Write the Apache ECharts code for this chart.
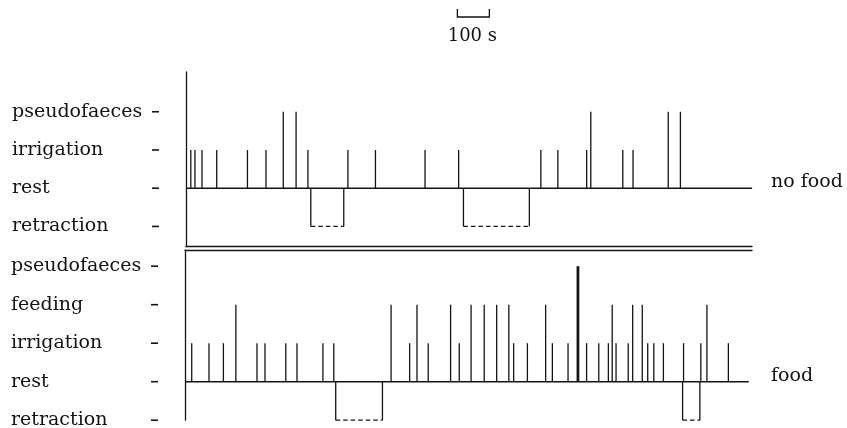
<!DOCTYPE html>
<html>
<head>
<meta charset="utf-8">
<style>
  html, body { margin: 0; padding: 0; background: #fff; }
  #chart { width: 847px; height: 428px; }
</style>
<script src="https://cdn.jsdelivr.net/npm/echarts@6/dist/echarts.min.js"></script>
</head>
<body>
<div id="chart"></div>
<script>
// Behaviour records, times in seconds from the start of each observation.
const noFoodLevels = ['retraction', 'rest', 'irrigation', 'pseudofaeces'];   // levels -1 .. 2
const foodLevels = ['retraction', 'rest', 'irrigation', 'feeding', 'pseudofaeces']; // levels -1 .. 3

const noFoodIrrigation = [15, 28, 50, 96, 192, 250, 381, 506, 592, 747, 852, 1109, 1162, 1252, 1365, 1397];
const noFoodPseudofaeces = [304, 344, 1265, 1507, 1545];
const noFoodRetraction = [[390, 493], [867, 1073]];
const noFoodEnd = 1769;

const foodIrrigation = [21, 75, 120, 225, 250, 315, 350, 431, 465, 702, 760, 857, 1027, 1070, 1148, 1197,
  1255, 1293, 1323, 1347, 1385, 1446, 1465, 1495, 1558, 1612, 1698];
const foodFeeding = [159, 644, 725, 830, 894, 935, 974, 1012, 1127, 1335, 1399, 1429, 1631];
const foodPseudofaeces = [1228];
const foodRetraction = [[471, 617], [1555, 1609]];
const foodEnd = 1762;

const scaleBar = [848, 948];   // 100 s
const scaleLabel = '100 s';

const INK = '#141414';
const SERIF = 'DejaVu Serif';
const S_PER_PX = 3.125;

function spikes(times, level, width) {
  return times.map(t => [t, level, width]);
}

function spikeItem(params, api) {
  const t = api.value(0), lv = api.value(1);
  const a = api.coord([t, 0]), b = api.coord([t, lv]);
  return {
    type: 'line',
    shape: { x1: a[0], y1: a[1], x2: b[0], y2: b[1] },
    style: { stroke: INK, lineWidth: api.value(2), lineCap: 'butt' }
  };
}

function retractionItem(params, api) {
  const s = api.value(0), e = api.value(1);
  const s0 = api.coord([s, 0]), s1 = api.coord([s, -1]);
  const e0 = api.coord([e, 0]), e1 = api.coord([e, -1]);
  return {
    type: 'group',
    children: [
      { type: 'polyline', shape: { points: [s0, s1] }, style: { stroke: INK, lineWidth: 1.3, fill: null } },
      { type: 'polyline', shape: { points: [e1, e0] }, style: { stroke: INK, lineWidth: 1.3, fill: null } },
      { type: 'line', shape: { x1: s1[0], y1: s1[1], x2: e1[0], y2: e1[1] },
        style: { stroke: INK, lineWidth: 1.2, lineDash: [4.5, 3] } }
    ]
  };
}

function levelAxis(gridIndex, names, min, max) {
  const values = names.map((_, i) => i - 1);
  return {
    type: 'value', gridIndex, min, max,
    splitLine: { show: false },
    axisTick: { show: false },
    axisLine: { show: true, onZero: false, lineStyle: { color: INK, width: 1.3 } },
    axisLabel: {
      customValues: values,
      margin: 27,
      align: 'right',
      verticalAlign: 'middle',
      formatter: v => `{n|${names[Math.round(v) + 1]}}{d| }`,
      rich: {
        n: { width: 140, align: 'left', fontFamily: SERIF, fontSize: 19, color: INK },
        d: { width: 7, height: 1.6, backgroundColor: INK, fontSize: 2 }
      }
    }
  };
}

function conditionAxis(gridIndex, text, min, max) {
  return {
    type: 'value', gridIndex, min, max, position: 'right',
    splitLine: { show: false },
    axisTick: { show: false },
    axisLine: { show: false },
    axisLabel: {
      customValues: [0],
      margin: 19,
      align: 'left',
      verticalAlign: 'bottom',
      lineHeight: 12,
      formatter: () => text,
      fontFamily: SERIF, fontSize: 19, color: INK
    }
  };
}

function timeAxis(gridIndex, width, position, showLine) {
  return {
    type: 'value', gridIndex, min: 0, max: width * S_PER_PX, position,
    splitLine: { show: false },
    axisTick: { show: false },
    axisLabel: { show: false },
    axisLine: { show: showLine, onZero: false, lineStyle: { color: INK, width: 1.3 } }
  };
}

const chart = echarts.init(document.getElementById('chart'), null, { renderer: 'canvas' });

chart.setOption({
  backgroundColor: '#fff',
  animation: false,
  grid: [
    { left: 186, width: 566, top: 72, height: 174.7, outerBoundsMode: 'none' },   // no food
    { left: 185, width: 567, top: 250, height: 170.2, outerBoundsMode: 'none' },  // food
    { left: 186, width: 566, top: 9, height: 8, outerBoundsMode: 'none' }         // time scale bar
  ],
  xAxis: [
    timeAxis(0, 566, 'bottom', true),
    timeAxis(1, 567, 'top', true),
    timeAxis(2, 566, 'bottom', false)
  ],
  yAxis: [
    levelAxis(0, noFoodLevels, -1.53, 3.04),
    levelAxis(1, foodLevels, -1.0, 3.42),
    { type: 'value', gridIndex: 2, min: 0, max: 1, show: false },
    conditionAxis(0, 'no food', -1.53, 3.04),
    conditionAxis(1, 'food', -1.0, 3.42)
  ],
  series: [
    // no food
    { type: 'line', xAxisIndex: 0, yAxisIndex: 0, data: [[0, 0], [noFoodEnd, 0]],
      symbol: 'none', lineStyle: { color: INK, width: 1.4 } },
    { type: 'custom', xAxisIndex: 0, yAxisIndex: 0, renderItem: spikeItem,
      data: spikes(noFoodIrrigation, 1, 1.3).concat(spikes(noFoodPseudofaeces, 2, 1.3)) },
    { type: 'custom', xAxisIndex: 0, yAxisIndex: 0, renderItem: retractionItem, data: noFoodRetraction },
    // food
    { type: 'line', xAxisIndex: 1, yAxisIndex: 1, data: [[0, 0], [foodEnd, 0]],
      symbol: 'none', lineStyle: { color: INK, width: 1.4 } },
    { type: 'custom', xAxisIndex: 1, yAxisIndex: 1, renderItem: spikeItem,
      data: spikes(foodIrrigation, 1, 1.3).concat(spikes(foodFeeding, 2, 1.3), spikes(foodPseudofaeces, 3, 2.8)) },
    { type: 'custom', xAxisIndex: 1, yAxisIndex: 1, renderItem: retractionItem, data: foodRetraction },
    // scale bar
    { type: 'custom', xAxisIndex: 2, yAxisIndex: 2, clip: false, data: [scaleBar],
      renderItem: (params, api) => {
        const a = api.value(0), b = api.value(1);
        const pts = [api.coord([a, 1]), api.coord([a, 0]), api.coord([b, 0]), api.coord([b, 1])];
        const mid = api.coord([(a + b) / 2, 0]);
        return {
          type: 'group',
          children: [
            { type: 'polyline', shape: { points: pts }, style: { stroke: INK, lineWidth: 1.3, fill: null } },
            { type: 'text', x: mid[0] - 1, y: mid[1] + 19,
              style: { text: scaleLabel, fontFamily: SERIF, fontSize: 18, fill: INK,
                       align: 'center', verticalAlign: 'middle' } }
          ]
        };
      } }
  ]
});
</script>
</body>
</html>
